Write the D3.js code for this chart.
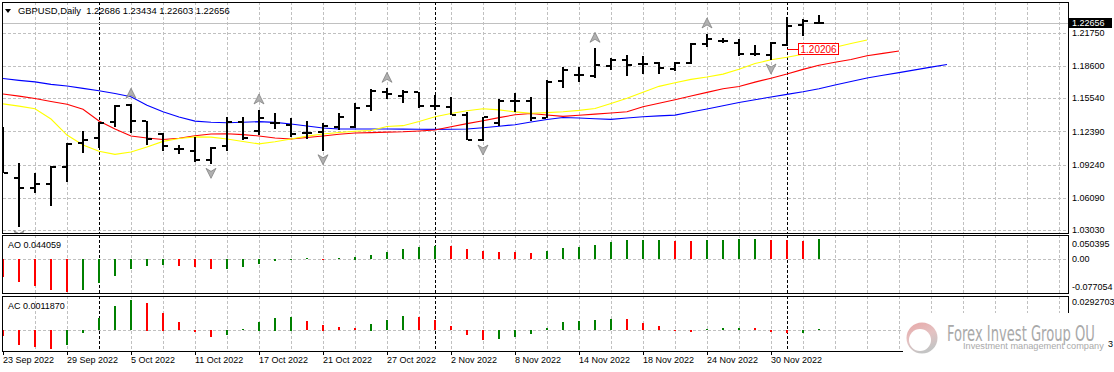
<!DOCTYPE html>
<html>
<head>
<meta charset="utf-8">
<script src="https://cdn.jsdelivr.net/npm/d3@7"></script>
<style>
html, body { margin: 0; padding: 0; background: #fff; }
svg { display: block; font-family: "Liberation Sans", Arial, sans-serif; font-size: 9px; }
</style>
</head>
<body>
<svg id="chart"></svg>
<script>
"use strict";

// bar dates (daily GBPUSD)
var dates = ["2022-09-23","2022-09-26","2022-09-27","2022-09-28","2022-09-29","2022-09-30",
    "2022-10-03","2022-10-04","2022-10-05","2022-10-06","2022-10-07","2022-10-10","2022-10-11",
    "2022-10-12","2022-10-13","2022-10-14","2022-10-17","2022-10-18","2022-10-19","2022-10-20",
    "2022-10-21","2022-10-24","2022-10-25","2022-10-26","2022-10-27","2022-10-28","2022-10-31",
    "2022-11-01","2022-11-02","2022-11-03","2022-11-04","2022-11-07","2022-11-08","2022-11-09",
    "2022-11-10","2022-11-11","2022-11-14","2022-11-15","2022-11-16","2022-11-17","2022-11-18",
    "2022-11-21","2022-11-22","2022-11-23","2022-11-24","2022-11-25","2022-11-28","2022-11-29",
    "2022-11-30","2022-12-01","2022-12-02","2022-12-05"];

var open = [1.1255,1.0796,1.0699,1.0739,1.0898,1.1126,1.1173,1.1331,1.1489,1.1337,
    1.1214,1.1069,1.1056,1.0967,1.1100,1.1325,1.1245,1.1322,1.1299,1.1220,
    1.1236,1.1283,1.1283,1.1482,1.1615,1.1577,1.1615,1.1482,1.1473,1.1394,
    1.1157,1.1315,1.1530,1.1530,1.1369,1.1717,1.1773,1.1764,1.1859,1.1916,
    1.1878,1.1890,1.1827,1.1890,1.2065,1.2099,1.2074,1.1970,1.1963,1.2058,
    1.2248,1.22686];
var high = [1.1283,1.0939,1.0841,1.0910,1.1126,1.1242,1.1331,1.1489,1.1496,1.1340,
    1.1226,1.1109,1.1188,1.1093,1.1378,1.1372,1.1442,1.1410,1.1363,1.1337,
    1.1321,1.1410,1.1505,1.1638,1.1647,1.1631,1.1615,1.1584,1.1562,1.1425,
    1.1378,1.1543,1.1600,1.1568,1.1726,1.1852,1.1852,1.2027,1.1932,1.1963,
    1.1954,1.1900,1.1900,1.2080,1.2163,1.2127,1.2112,1.2058,1.2090,1.2327,
    1.2302,1.23434];
var low = [1.0841,1.0334,1.0651,1.0534,1.0761,1.1031,1.1078,1.1283,1.1226,1.1109,
    1.1055,1.1024,1.0951,1.0926,1.1055,1.1157,1.1204,1.1258,1.1183,1.1164,
    1.1055,1.1252,1.1268,1.1435,1.1546,1.1505,1.1457,1.1442,1.1394,1.1157,
    1.1147,1.1293,1.1425,1.1337,1.1363,1.1647,1.1710,1.1742,1.1821,1.1764,
    1.1783,1.1783,1.1815,1.1878,1.2042,1.2074,1.1957,1.1957,1.1916,1.2049,
    1.2144,1.22603];
var close = [1.0847,1.0701,1.0737,1.0898,1.1120,1.1157,1.1316,1.1482,1.1340,1.1166,
    1.1103,1.1069,1.0967,1.1080,1.1325,1.1179,1.1363,1.1322,1.1214,1.1220,
    1.1293,1.1372,1.1463,1.1622,1.1590,1.1609,1.1480,1.1482,1.1394,1.1157,
    1.1372,1.1530,1.1530,1.1369,1.1710,1.1821,1.1773,1.1868,1.1916,1.1868,
    1.1878,1.1837,1.1890,1.2065,1.2112,1.2099,1.1970,1.1970,1.2074,1.2239,
    1.2289,1.22656];

// Alligator lines, already shifted forward (jaw 8, teeth 5, lips 3 bars)
var jaw = [1.1740,1.1723,1.1708,1.1685,1.1669,1.1647,1.1624,1.1598,1.1567,1.1487,
    1.1425,1.1376,1.1336,1.1325,1.1321,1.1325,1.1331,1.1324,1.1309,1.1290,
    1.1271,1.1261,1.1261,1.1261,1.1261,1.1260,1.1259,1.1258,1.1259,1.1261,
    1.1273,1.1288,1.1302,1.1328,1.1352,1.1371,1.1366,1.1359,1.1353,1.1366,
    1.1378,1.1386,1.1393,1.1422,1.1451,1.1482,1.1513,1.1539,1.1565,1.1590,
    1.1614,1.1644,1.1678,1.1712,1.1745,1.1771,1.1796,1.1822,1.1848,1.1873];
var teeth = [1.1593,1.1573,1.1550,1.1522,1.1496,1.1448,1.1337,1.1261,1.1195,1.1176,
    1.1161,1.1174,1.1197,1.1214,1.1216,1.1208,1.1195,1.1176,1.1166,1.1180,
    1.1195,1.1212,1.1223,1.1227,1.1232,1.1235,1.1242,1.1252,1.1282,1.1312,
    1.1340,1.1369,1.1396,1.1408,1.1394,1.1381,1.1392,1.1402,1.1413,1.1425,
    1.1473,1.1506,1.1539,1.1574,1.1609,1.1643,1.1664,1.1706,1.1743,1.1783,
    1.1827,1.1866,1.1894,1.1921,1.1956,1.1979,1.2001];
var lips = [1.1500,1.1478,1.1453,1.1356,1.1204,1.1110,1.1050,1.1021,1.1043,1.1091,
    1.1144,1.1171,1.1187,1.1184,1.1166,1.1143,1.1120,1.1140,1.1166,1.1194,
    1.1214,1.1228,1.1240,1.1247,1.1285,1.1293,1.1332,1.1378,1.1408,1.1434,
    1.1453,1.1443,1.1424,1.1411,1.1417,1.1425,1.1438,1.1456,1.1503,1.1553,
    1.1611,1.1666,1.1700,1.1732,1.1755,1.1782,1.1829,1.1882,1.1918,1.1942,
    1.1970,1.2004,1.2037,1.2072,1.2106];

// fractal bar indices
var fractalUp = [8, 16, 24, 37, 44];
var fractalDown = [1, 13, 20, 30, 48];

var ao = [-0.0404,-0.0514,-0.0602,-0.0674,-0.0725,-0.0674,-0.0527,-0.0382,-0.0220,-0.0163,
    -0.0141,-0.0145,-0.0185,-0.0220,-0.0211,-0.0176,-0.0119,-0.0053,-0.0015,0.0029,
    0.0015,0.0026,0.0059,0.0094,0.0160,0.0226,0.0270,0.0292,0.0288,0.0226,
    0.0182,0.0160,0.0156,0.0138,0.0182,0.0248,0.0270,0.0314,0.0380,0.0424,
    0.0426,0.0428,0.0402,0.0400,0.0424,0.0426,0.0446,0.0448,0.0424,0.0422,
    0.0402,0.044059];
var ac = [-0.0061,-0.0142,-0.0167,-0.0181,-0.0142,-0.0032,0.0116,0.0235,0.0292703,0.0268,
    0.0171,0.0080,-0.0019,-0.0065,-0.0045,0.0010,0.0084,0.0123,0.0132,0.0090,
    0.0055,0.0032,0.0022,0.0065,0.0099,0.0138,0.0128,0.0099,0.0042,-0.0045,
    -0.0094,-0.0084,-0.0065,-0.0036,0.0022,0.0080,0.0090,0.0099,0.0109,0.0107,
    0.0071,0.0042,-0.0003,-0.0016,0.0013,0.0022,0.0023,0.0021,-0.0016,-0.0026,
    -0.0025,0.0011870];

var priceTicks = ["1.21750","1.18600","1.15540","1.12390","1.09240","1.06090","1.03030"];
var aoTicks = ["0.050395","0.00","-0.077054"];
var acTicks = ["0.0292703","3"];   // the min label is hidden by the logo, only its last digit shows
var markerPrice = 1.20206, markerBar = 49;

var W = 1114, H = 372;
var plotL = 3, plotR = 1068;
var mainTop = 2, mainBot = 233, aoTop = 235, aoBot = 293, acTop = 296, acBot = 351;

var svg = d3.select("#chart").attr("width", W).attr("height", H);
var defs = svg.append("defs");

function addClip(id, y0, y1) {
    defs.append("clipPath").attr("id", id).append("rect")
        .attr("x", plotL).attr("y", y0).attr("width", plotR - plotL).attr("height", y1 - y0);
}
addClip("cMain", mainTop + 1, mainBot);
addClip("cAo", aoTop + 1, aoBot);
addClip("cAc", acTop + 1, acBot);

var x = d3.scaleLinear().domain([0, 1]).range([3, 19]);
var y = d3.scaleLinear().domain([1.0303, 1.2175]).range([230, 32.7]);
var yAo = d3.scaleLinear().domain([-0.077054, 0.050395]).range([294.3, 236.3]);
var yAc = d3.scaleLinear().domain([-0.0210, 0.0322]).range([352, 297]);

var nBars = close.length;
var gridIdx = d3.range(2, 67, 2).filter(function (i) { return x(i) < plotR; });
var sepIdx = d3.range(1, nBars).filter(function (i) {
    return dates[i].slice(5, 7) !== dates[i - 1].slice(5, 7);
});
var half = function (v) { return Math.round(v) + 0.5; };

function vGrid(g, y0, y1) {
    g.selectAll(".vg").data(gridIdx).enter().append("line")
        .attr("x1", function (i) { return half(x(i)); }).attr("x2", function (i) { return half(x(i)); })
        .attr("y1", y0).attr("y2", y1)
        .attr("stroke", "#c0c0c0").attr("stroke-dasharray", "3,2");
    g.selectAll(".sep").data(sepIdx).enter().append("line")
        .attr("x1", function (i) { return half(x(i)); }).attr("x2", function (i) { return half(x(i)); })
        .attr("y1", y0).attr("y2", y1)
        .attr("stroke", "#000").attr("stroke-dasharray", "3,2");
}

// ---------- main window ----------
var gMain = svg.append("g").attr("clip-path", "url(#cMain)");
gMain.selectAll(".hg").data(priceTicks).enter().append("line")
    .attr("x1", plotL).attr("x2", plotR)
    .attr("y1", function (d) { return half(y(+d)); }).attr("y2", function (d) { return half(y(+d)); })
    .attr("stroke", "#c0c0c0").attr("stroke-dasharray", "3,2");
vGrid(gMain, mainTop, mainBot);

// bid line
gMain.append("line").attr("x1", plotL).attr("x2", plotR)
    .attr("y1", half(y(close[nBars - 1]))).attr("y2", half(y(close[nBars - 1])))
    .attr("stroke", "#c0c0c0");

var line = d3.line().x(function (d, i) { return x(i); }).y(function (d) { return y(d); });
[[jaw, "#0000ff"], [teeth, "#ff0000"], [lips, "#ffff00"]].forEach(function (s) {
    gMain.append("path").datum(s[0]).attr("d", line)
        .attr("fill", "none").attr("stroke", s[1]).attr("stroke-width", 1.1);
});

// OHLC bars
var bars = gMain.selectAll(".bar").data(d3.range(nBars)).enter().append("g")
    .attr("shape-rendering", "crispEdges").attr("fill", "#000");
bars.append("rect")
    .attr("x", function (i) { return Math.round(x(i)) - 1; })
    .attr("y", function (i) { return Math.round(y(high[i])); })
    .attr("width", 2)
    .attr("height", function (i) { return Math.max(2, Math.round(y(low[i])) - Math.round(y(high[i]))); });
bars.append("rect")
    .attr("x", function (i) { return Math.round(x(i)) - 5; })
    .attr("y", function (i) { return Math.round(y(open[i])) - 1; })
    .attr("width", 4).attr("height", 2);
bars.append("rect")
    .attr("x", function (i) { return Math.round(x(i)) + 1; })
    .attr("y", function (i) { return Math.round(y(close[i])) - 1; })
    .attr("width", 4).attr("height", 2);

// fractal arrows
function arrow(g, data, up) {
    g.selectAll(null).data(data).enter().append("path")
        .attr("transform", function (i) {
            var yy = up ? y(high[i]) - 11 : y(low[i]) + 9;
            return "translate(" + x(i) + "," + yy + ")" + (up ? "" : " scale(1,-1)");
        })
        .attr("d", "M0,-5L5,5L0,2L-5,5Z")
        .attr("fill", "#b0b0b0").attr("stroke", "#787878").attr("stroke-width", 0.7);
}
arrow(gMain, fractalUp, true);
arrow(gMain, fractalDown, false);

// red price marker
var my = y(markerPrice);
gMain.append("line").attr("x1", x(markerBar)).attr("x2", x(markerBar) + 11)
    .attr("y1", half(my)).attr("y2", half(my)).attr("stroke", "#ff0000");
gMain.append("rect").attr("x", x(markerBar) + 11.5).attr("y", Math.round(my) - 5.5)
    .attr("width", 40).attr("height", 11).attr("fill", "#fff").attr("stroke", "#ff0000");
gMain.append("text").attr("x", x(markerBar) + 13.5).attr("y", my).attr("dy", "0.36em")
    .attr("fill", "#ff0000").style("font-size", "10px").text(markerPrice.toFixed(5));

// ---------- AO window ----------
var gAo = svg.append("g").attr("clip-path", "url(#cAo)");
vGrid(gAo, aoTop, aoBot);
gAo.append("line").attr("x1", plotL).attr("x2", plotR)
    .attr("y1", half(yAo(0))).attr("y2", half(yAo(0)))
    .attr("stroke", "#c0c0c0").attr("stroke-dasharray", "3,2");
gAo.selectAll(".ao").data(ao).enter().append("rect")
    .attr("shape-rendering", "crispEdges")
    .attr("x", function (d, i) { return Math.round(x(i)) - 1; })
    .attr("width", 2)
    .attr("y", function (d) { return Math.round(Math.min(yAo(d), yAo(0))); })
    .attr("height", function (d) { return Math.max(1, Math.round(Math.abs(yAo(d) - yAo(0)))); })
    .attr("fill", function (d, i) { return i > 0 && d > ao[i - 1] ? "#008000" : "#ff0000"; });

// ---------- AC window ----------
var gAc = svg.append("g").attr("clip-path", "url(#cAc)");
vGrid(gAc, acTop, acBot);
gAc.append("line").attr("x1", plotL).attr("x2", plotR)
    .attr("y1", half(yAc(0))).attr("y2", half(yAc(0)))
    .attr("stroke", "#c0c0c0").attr("stroke-dasharray", "3,2");
gAc.selectAll(".ac").data(ac).enter().append("rect")
    .attr("shape-rendering", "crispEdges")
    .attr("x", function (d, i) { return Math.round(x(i)) - 1; })
    .attr("width", 2)
    .attr("y", function (d) { return Math.round(Math.min(yAc(d), yAc(0))); })
    .attr("height", function (d) { return Math.max(1, Math.round(Math.abs(yAc(d) - yAc(0)))); })
    .attr("fill", function (d, i) { return i > 0 && d > ac[i - 1] ? "#008000" : "#ff0000"; });

// ---------- frames ----------
[[mainTop, mainBot], [aoTop, aoBot], [acTop, acBot]].forEach(function (p) {
    svg.append("rect").attr("x", plotL - 0.5).attr("y", p[0] + 0.5)
        .attr("width", plotR - plotL + 1).attr("height", p[1] - p[0])
        .attr("fill", "none").attr("stroke", "#000").attr("shape-rendering", "crispEdges");
});

// ---------- right axis labels ----------
var axisX = 1072;
svg.selectAll(".pl").data(priceTicks).enter().append("text")
    .attr("x", axisX).attr("y", function (d) { return y(+d); }).attr("dy", "0.35em")
    .text(function (d) { return d; });
var bidY = y(close[nBars - 1]);
svg.append("rect").attr("x", 1069).attr("y", Math.round(bidY) - 5)
    .attr("width", 43).attr("height", 10).attr("fill", "#000");
svg.append("text").attr("x", axisX).attr("y", bidY).attr("dy", "0.35em")
    .attr("fill", "#fff").text(close[nBars - 1].toFixed(5));

svg.append("text").attr("x", axisX).attr("y", 244).attr("dy", "0.35em").text(aoTicks[0]);
svg.append("text").attr("x", axisX).attr("y", yAo(0)).attr("dy", "0.35em").text(aoTicks[1]);
svg.append("text").attr("x", axisX).attr("y", 287).attr("dy", "0.35em").text(aoTicks[2]);
svg.append("text").attr("x", axisX).attr("y", 302).attr("dy", "0.35em").text(acTicks[0]);
svg.append("text").attr("x", 1113).attr("y", 344).attr("dy", "0.35em")
    .attr("text-anchor", "end").text(acTicks[1]);

// ---------- time axis ----------
var fmt = d3.timeFormat("%-d %b %Y");
var parse = d3.timeParse("%Y-%m-%d");
var tickIdx = d3.range(0, nBars, 4);
svg.selectAll(".tk").data(tickIdx).enter().append("line")
    .attr("x1", function (i) { return half(x(i)); }).attr("x2", function (i) { return half(x(i)); })
    .attr("y1", acBot + 1).attr("y2", acBot + 4).attr("stroke", "#000");
svg.selectAll(".tl").data(tickIdx).enter().append("text")
    .attr("x", function (i) { return x(i); }).attr("y", 363)
    .text(function (i) { return fmt(parse(dates[i])); });

// ---------- window titles ----------
svg.append("path").attr("d", "M5,9L11,9L8,13Z").attr("fill", "#000");
svg.append("text").attr("x", 18).attr("y", 14).style("font-size", "9.4px")
    .text("GBPUSD,Daily\u00a0\u00a0" + [open, high, low, close].map(function (a) {
        return a[nBars - 1].toFixed(5);
    }).join(" "));
svg.append("text").attr("x", 8).attr("y", 248).text("AO " + ao[nBars - 1].toFixed(6));
svg.append("text").attr("x", 8).attr("y", 309).text("AC " + ac[nBars - 1].toFixed(7));

// ---------- watermark ----------
var wm = svg.append("g");
wm.append("rect").attr("x", 903).attr("y", 313).attr("width", 203).attr("height", 59).attr("fill", "#fff");
var grad = defs.append("linearGradient").attr("id", "logoGrad")
    .attr("x1", 0).attr("y1", 0).attr("x2", 0.4).attr("y2", 1);
grad.append("stop").attr("offset", "0%").attr("stop-color", "#e8a6a6");
grad.append("stop").attr("offset", "55%").attr("stop-color", "#e4c2c2");
grad.append("stop").attr("offset", "100%").attr("stop-color", "#c4c4c4");
wm.append("circle").attr("cx", 922).attr("cy", 338).attr("r", 15.5).attr("fill", "url(#logoGrad)");
wm.append("circle").attr("cx", 920).attr("cy", 340).attr("r", 11).attr("fill", "#fff");

function squeezed(txt, x0, y0, size, family, width) {
    var g = wm.append("g");
    var t = g.append("text").attr("x", 0).attr("y", 0)
        .style("font-size", size + "px").style("font-family", family)
        .attr("fill", "#a9a9a9").text(txt);
    var len = t.node().getComputedTextLength() || width;
    g.attr("transform", "translate(" + x0 + "," + y0 + ") scale(" + (width / len) + ",1)");
}
squeezed("Forex Invest Group OU", 947, 341, 21, "'DejaVu Sans Condensed', 'DejaVu Sans', sans-serif", 148);
squeezed("Investment management company", 963, 349, 9, "'Liberation Sans', Arial, sans-serif", 141);
</script>
</body>
</html>
